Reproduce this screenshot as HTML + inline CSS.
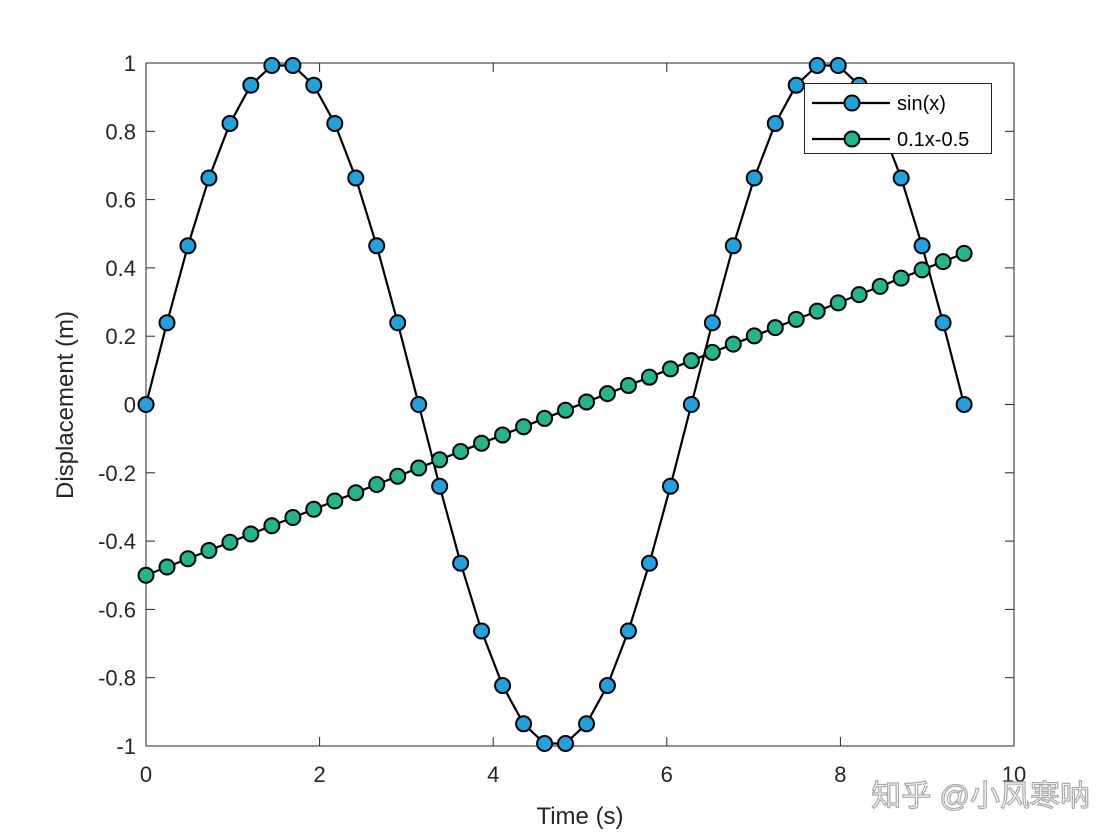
<!DOCTYPE html>
<html><head><meta charset="utf-8"><style>
body{margin:0;background:#fff;}
svg{display:block;font-family:"Liberation Sans","Noto Sans CJK SC",sans-serif;}
</style></head><body>
<svg id="chart" width="1120" height="840">
<rect x="0" y="0" width="1120" height="840" fill="#fff"/>
</svg>
<script>
const xVals=[0,0.242,0.483,0.725,0.967,1.208,1.450,1.692,1.933,2.175,2.417,2.658,2.900,3.142,3.383,3.625,3.866,4.108,4.350,4.592,4.833,5.075,5.316,5.558,5.800,6.042,6.283,6.525,6.766,7.008,7.250,7.491,7.733,7.975,8.216,8.458,8.700,8.941,9.183,9.425];
const sinVals=[0,0.2393,0.4647,0.6631,0.8230,0.9350,0.9927,0.9927,0.9350,0.8230,0.6631,0.4647,0.2393,0,-0.2393,-0.4647,-0.6631,-0.8230,-0.9350,-0.9927,-0.9927,-0.9350,-0.8230,-0.6631,-0.4647,-0.2393,0,0.2393,0.4647,0.6631,0.8230,0.9350,0.9927,0.9927,0.9350,0.8230,0.6631,0.4647,0.2393,0];
const lineVals=[-0.5,-0.4758,-0.4517,-0.4275,-0.4033,-0.3792,-0.3550,-0.3308,-0.3067,-0.2825,-0.2583,-0.2342,-0.2100,-0.1858,-0.1617,-0.1375,-0.1133,-0.0892,-0.0650,-0.0408,-0.0167,0.0075,0.0317,0.0558,0.0800,0.1042,0.1283,0.1525,0.1767,0.2008,0.2250,0.2492,0.2733,0.2975,0.3217,0.3458,0.3700,0.3942,0.4183,0.4425];
const xTicks=[0,2,4,6,8,10];
const yTicks=[-1,-0.8,-0.6,-0.4,-0.2,0,0.2,0.4,0.6,0.8,1];
const yTickLabels=["-1","-0.8","-0.6","-0.4","-0.2","0","0.2","0.4","0.6","0.8","1"];

const L=146,R=1014,T=63,B=746;
const sx=v=>L+(v-0)/(10-0)*(R-L);
const sy=v=>B-(v+1)/2*(B-T);
const NS="http://www.w3.org/2000/svg";
const svg=document.getElementById('chart');
function mk(tag,attrs,parent,text){const e=document.createElementNS(NS,tag);for(const k in attrs)e.setAttribute(k,attrs[k]);if(text!==undefined)e.textContent=text;(parent||svg).appendChild(e);return e;}

const axes=mk('rect',{x:L,y:T,width:R-L,height:B-T,fill:'none',stroke:'#262626','stroke-width':1});



xTicks.forEach(t=>{
  const x=sx(t);
  mk('line',{x1:x,x2:x,y1:B,y2:B-9,stroke:'#262626'});
  mk('line',{x1:x,x2:x,y1:T,y2:T+9,stroke:'#262626'});
  const tl=mk('text',{x:x,y:B+36,'text-anchor':'middle','font-size':22,fill:'#262626'},svg,String(t));
  
  
});
yTicks.forEach((t,i)=>{
  const y=sy(t);
  mk('line',{x1:L,x2:L+9,y1:y,y2:y,stroke:'#262626'});
  mk('line',{x1:R,x2:R-9,y1:y,y2:y,stroke:'#262626'});
  const tl=mk('text',{x:L-10,y:y+8,'text-anchor':'end','font-size':22,fill:'#262626'},svg,yTickLabels[i]);
  
  
});
const xt=mk('text',{x:580,y:824,'text-anchor':'middle','font-size':24,fill:'#262626'},svg,'Time (s)');


const yt=mk('text',{x:0,y:0,'text-anchor':'middle','font-size':24,fill:'#262626',transform:'translate(73,405) rotate(-90)'},svg,'Displacement (m)');



function drawSeries(ys,color,name){
  const g=mk('g',{});
  
  
  const pts=xVals.map((x,i)=>sx(x)+','+sy(ys[i])).join(' ');
  mk('polyline',{points:pts,fill:'none',stroke:'#000','stroke-width':2.2},g);
  xVals.forEach((x,i)=>{
    const c=mk('circle',{cx:sx(x),cy:sy(ys[i]),r:7.5,fill:color,stroke:'#000','stroke-width':2},g);
    
    
  });
}
drawSeries(sinVals,'#1fa3e0','sin');
drawSeries(lineVals,'#21b68c','linear');

const lg=mk('g',{});


mk('rect',{x:804.5,y:83.5,width:187,height:70,fill:'#fff',stroke:'#262626','stroke-width':1},lg);
[['sin(x)','#1fa3e0',103],['0.1x-0.5','#21b68c',139]].forEach(([lab,col,y])=>{
  const e=mk('g',{},lg);
  
  
  mk('line',{x1:812,x2:890,y1:y,y2:y,stroke:'#000','stroke-width':2.2},e);
  mk('circle',{cx:852,cy:y,r:7.5,fill:col,stroke:'#000','stroke-width':2},e);
  mk('text',{x:897,y:y+7,'font-size':20,fill:'#000'},e,lab);
});

const wm=mk('text',{x:1090,y:806,'text-anchor':'end','font-size':30,fill:'#fff',stroke:'#aaa','stroke-width':1.2},svg,'知乎 @小风寒呐');


</script>
</body></html>
